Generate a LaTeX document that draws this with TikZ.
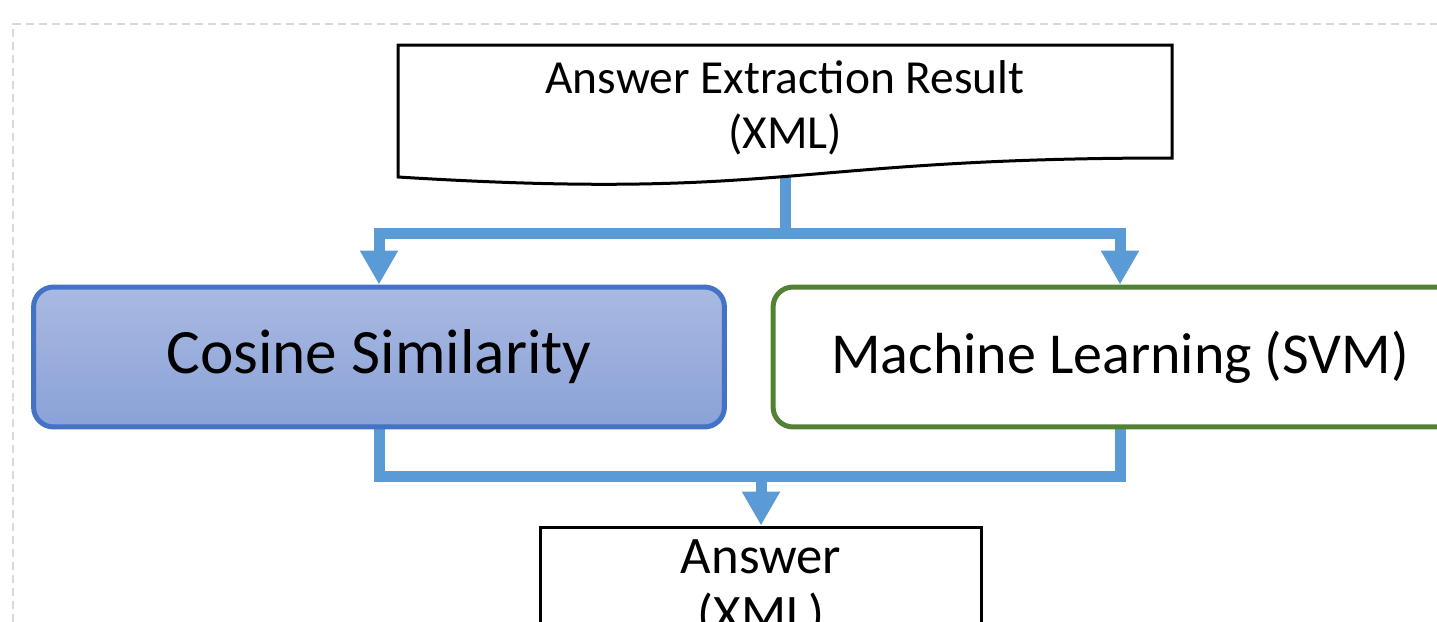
\documentclass[tikz,border=0pt]{standalone}
\usepackage{fontspec}
\setmainfont{Carlito}
\usetikzlibrary{arrows.meta}
\definecolor{connblue}{HTML}{5B9BD5}
\definecolor{cosborder}{HTML}{4472C4}
\definecolor{costop}{HTML}{A9B9E1}
\definecolor{cosbot}{HTML}{8AA2D8}
\definecolor{mlgreen}{HTML}{548235}
\definecolor{framegray}{HTML}{D9D9D9}
\pgfdeclarelayer{bg}
\pgfsetlayers{bg,main}
\tikzset{
  conn/.style={draw=connblue, line width=0.22cm},
  conntip/.style={conn, -{Triangle[width=0.72cm, length=0.68cm]}},
  cosbox/.style={draw=cosborder, line width=0.1cm, rounded corners=0.4cm,
    top color=costop, bottom color=cosbot, minimum width=13.82cm, minimum height=2.8cm,
    font=\fontsize{36}{42}\selectfont},
  mlbox/.style={draw=mlgreen, line width=0.1cm, rounded corners=0.4cm, fill=white,
    minimum width=13.88cm, minimum height=2.8cm, font=\fontsize{33}{39}\selectfont},
  docline/.style={draw=black, line width=0.06cm, fill=white},
  ansbox/.style={draw=black, line width=0.06cm, fill=white, minimum width=8.84cm,
    minimum height=2.5cm, align=center, font=\fontsize{30}{33}\selectfont},
  srctext/.style={align=center, font=\fontsize{27}{31}\selectfont},
}
\begin{document}
\begin{tikzpicture}[x=0.02cm, y=-0.02cm]
\useasboundingbox (0,0) rectangle (1437,622);
\clip (0,0) rectangle (1437,622);
% dashed frame
\draw[framegray, line width=0.04cm, dash pattern=on 0.16cm off 0.1cm] (13,700) -- (13,24) -- (1500,24);
% document shape
\draw[docline] (398,45) -- (1172,45) -- (1172,158) .. controls (785,158) and (785,201) .. (398,177) -- cycle;
\node[srctext] (src) at (785,108) {Answer Extraction Result\\(XML)};
\node[cosbox] (cos) at (379,357) {\raisebox{-0.1cm}{Cosine Similarity}};
\node[mlbox] (ml) at (1120,357) {\raisebox{-0.08cm}{Machine Learning (SVM)}};
\node[ansbox] (ans) at (761,589.5) {Answer\\(XML)};
\coordinate (split) at (785,233);
\coordinate (merge) at (761,476);
\begin{pgfonlayer}{bg}
\draw[conntip] (src.south) -- (split) -| (cos.north);
\draw[conntip] (split) -| (ml.north);
\draw[conn] (cos.south) |- (merge) -| (ml.south);
\draw[conntip] (merge) -- (ans.north);
\end{pgfonlayer}
\end{tikzpicture}
\end{document}
